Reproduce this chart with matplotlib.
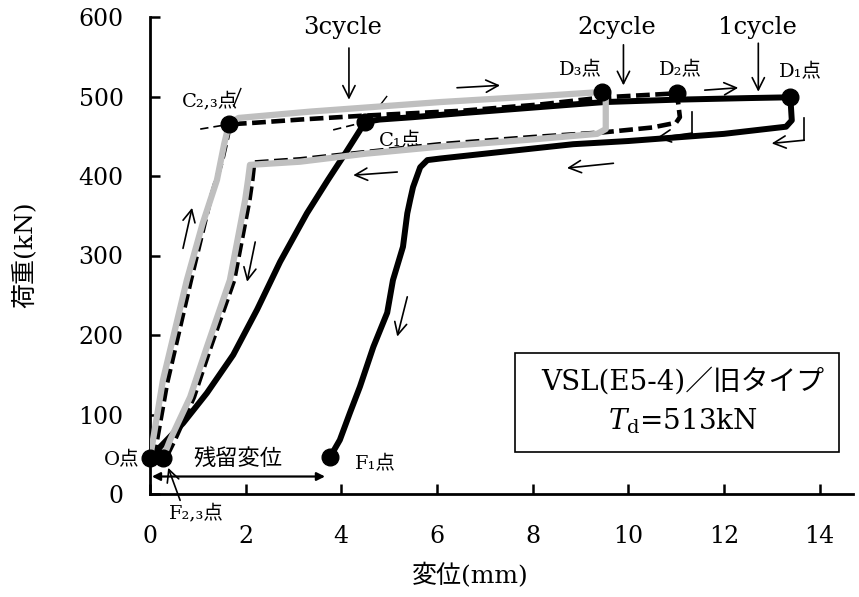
import matplotlib.pyplot as plt
from matplotlib.patches import Rectangle

plt.rcParams['font.family'] = ['DejaVu Serif', 'Noto Sans CJK JP']
plt.rcParams['mathtext.fontset'] = 'dejavuserif'

# 1cycle (black solid): loading O -> C1 -> D1, unloading -> F1
disp_1 = [0.05, 0.21, 0.69, 1.19, 1.74, 2.24, 2.72, 3.28, 3.72, 4.10, 4.50, 4.80, 5.5, 6.5, 8.0,
          9.5, 11.0, 12.5, 13.39, 13.42, 13.30, 12.0, 10.0, 8.85, 7.3, 6.07, 5.8, 5.65, 5.5,
          5.44, 5.38, 5.29, 5.08, 4.96, 4.67, 4.39, 4.18, 3.97, 3.77]
load_1 = [45, 59, 89, 127, 175, 232, 292, 353, 395, 430, 468, 471, 474, 479, 486,
          493, 496, 498, 499, 470, 462, 453, 444, 440, 430, 422, 420, 411, 386,
          370, 353, 311, 269, 228, 185, 135, 102, 68, 47]

# 2cycle (black dashed): loading -> C2,3 -> D2, unloading -> F2,3
disp_2 = [0.08, 0.36, 0.86, 1.26, 1.51, 1.63, 1.65, 2.2, 3.14, 4.5, 6.5, 8.16, 9.5, 11.02,
          11.08, 11.0, 10.5, 9.5, 8.0, 6.07, 4.5, 3.14, 2.18, 2.14, 2.08, 1.76, 1.27,
          0.92, 0.52, 0.33]
load_2 = [45, 140, 270, 370, 420, 452, 465, 467, 471, 476, 482, 490, 499, 504,
          474, 467, 461, 455, 449, 440, 430, 421, 417, 395, 370, 269, 185,
          122, 68, 45]

# 3cycle (gray): loading -> C2,3 -> D3, unloading -> F2,3
disp_3 = [0.0, 0.27, 0.77, 1.10, 1.40, 1.55, 1.65, 1.85, 3.35, 6.07, 8.0, 9.27, 9.46, 9.53,
          9.53, 9.35, 8.0, 6.07, 4.5, 3.14, 2.09, 2.05, 1.99, 1.67, 1.19, 0.84, 0.42, 0.27]
load_3 = [45, 143, 269, 340, 395, 440, 465, 473, 481, 493, 500, 505, 506, 500,
          459, 453, 446, 437, 428, 418, 414, 395, 370, 269, 185, 122, 68, 45]

# marked points
point_names = ['O', 'F23', 'F1', 'C23', 'C1', 'D3', 'D2', 'D1']
point_disp = [0.0, 0.27, 3.77, 1.65, 4.50, 9.46, 11.02, 13.39]
point_load = [45, 45, 46, 465, 468, 506, 504, 499]

x_ticks = [0, 2, 4, 6, 8, 10, 12, 14]
y_ticks = [0, 100, 200, 300, 400, 500, 600]

fig = plt.figure(figsize=(8.59, 5.97), dpi=100)
ax = fig.add_axes([150 / 859, 1 - 494 / 597, (853 - 150) / 859, (494 - 17) / 597])

ax.plot(disp_1, load_1, color='black', lw=4.3, solid_joinstyle='round', zorder=3)
ax.plot(disp_2, load_2, color='black', lw=3.3, dashes=(3, 1.2), zorder=4)
ax.plot(disp_3, load_3, color='#BFBFBF', lw=4.5, solid_joinstyle='round', zorder=5)

# thin tangent lines at the yield points
ax.plot([1.05, 1.65], [459, 465], color='black', lw=1.2, ls=(0, (5, 3)), zorder=2)
ax.plot([1.75, 1.90], [488, 510], color='black', lw=1.0, zorder=2)
ax.plot([3.83, 4.50], [458, 468], color='black', lw=1.2, ls=(0, (5, 3)), zorder=2)
ax.plot([4.81, 4.95], [489, 500], color='black', lw=1.0, zorder=2)

ax.plot(point_disp, point_load, 'o', color='black', ms=12, zorder=6, clip_on=False)

ax.set_xlim(0, 14.7)
ax.set_ylim(0, 600)
ax.set_xticks(x_ticks)
ax.set_yticks(y_ticks)
ax.spines['top'].set_visible(False)
ax.spines['right'].set_visible(False)
ax.spines['left'].set_linewidth(2)
ax.spines['bottom'].set_linewidth(2)
ax.tick_params(axis='both', direction='in', length=7, width=1.8, labelsize=17)
ax.tick_params(axis='y', pad=19)
ax.tick_params(axis='x', pad=22)

ax.set_xlabel('変位(mm)', fontsize=18, va='center', ha='center')
ax.set_ylabel('荷重(kN)', fontsize=18, va='center', ha='center')
ax.xaxis.set_label_coords((470 - 150) / 703, -(576 - 494) / 477)
ax.yaxis.set_label_coords(-(150 - 24) / 703, (494 - 255) / 477)

arrow = dict(arrowstyle='->', lw=1.2, color='black', shrinkA=0, shrinkB=0, mutation_scale=22)

# cycle labels
for label, tx, ax_x, y0, y1 in [('3cycle', 4.02, 4.16, 561, 496),
                                 ('2cycle', 9.77, 9.90, 565, 514),
                                 ('1cycle', 12.70, 12.72, 567, 506)]:
    ax.text(tx, 587, label, fontsize=17.5, ha='center', va='center')
    ax.annotate('', xy=(ax_x, y1), xytext=(ax_x, y0), arrowprops=arrow, annotation_clip=False)

# point labels
ax.text(9.0, 533, 'D₃点', fontsize=14, ha='center', va='center')
ax.text(11.09, 533, 'D₂点', fontsize=14, ha='center', va='center')
ax.text(13.6, 530, 'D₁点', fontsize=14, ha='center', va='center')
ax.text(1.26, 494, 'C₂,₃点', fontsize=14, ha='center', va='center')
ax.text(5.23, 444, 'C₁点', fontsize=14, ha='center', va='center')
ax.text(-0.59, 43, 'O点', fontsize=14, ha='center', va='center')
ax.text(4.72, 38, 'F₁点', fontsize=14, ha='center', va='center')
ax.text(0.96, -24, 'F₂,₃点', fontsize=14, ha='center', va='center')
ax.text(1.83, 44, '残留変位', fontsize=16, ha='center', va='center')

# residual displacement and F2,3 pointer
ax.annotate('', xy=(3.66, 22), xytext=(0.04, 22),
            arrowprops=dict(arrowstyle='<|-|>', lw=1.6, color='black', shrinkA=0, shrinkB=0,
                            mutation_scale=12), annotation_clip=False)
ax.annotate('', xy=(0.38, 33), xytext=(0.63, -8), arrowprops=arrow, annotation_clip=False)

# direction arrows
for (x0, y0), (x1, y1) in [((6.42, 511), (7.32, 514)),
                           ((11.6, 508), (12.3, 511)),
                           ((5.17, 405), (4.25, 401)),
                           ((9.69, 416), (8.72, 410)),
                           ((0.69, 309), (0.88, 360)),
                           ((2.20, 317), (2.03, 267)),
                           ((5.38, 248), (5.17, 198))]:
    ax.annotate('', xy=(x1, y1), xytext=(x0, y0), arrowprops=arrow)

# corner arrows after D1 and D2
ax.plot([13.68, 13.68], [473, 445], color='black', lw=1.2)
ax.annotate('', xy=(13.0, 441), xytext=(13.68, 445), arrowprops=arrow)
ax.plot([11.34, 11.34], [480, 454], color='black', lw=1.2)
ax.annotate('', xy=(10.6, 448), xytext=(11.34, 454), arrowprops=arrow)

# specimen box
ax.add_patch(Rectangle((7.64, 53), 14.4 - 7.64, 177 - 53, facecolor='white',
                       edgecolor='black', lw=1.2, zorder=7))
ax.text(11.15, 141, 'VSL(E5-4)／旧タイプ', fontsize=20, ha='center', va='center', zorder=8)
ax.text(11.15, 92, '$T_{\\mathrm{d}}$=513kN', fontsize=20, ha='center', va='center', zorder=8)

fig.savefig('out.png', dpi=100)
